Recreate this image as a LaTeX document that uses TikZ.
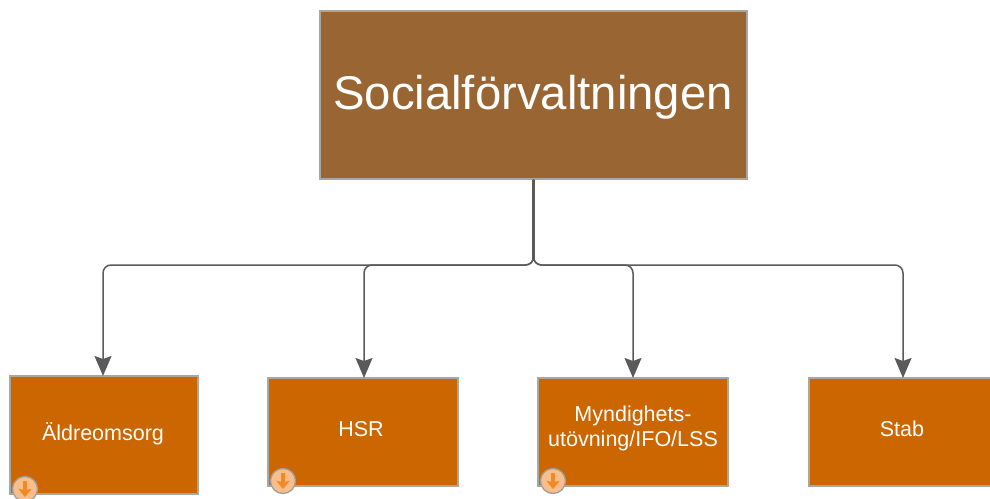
\documentclass[tikz,border=0pt]{standalone}
\usepackage{fontspec}
\setmainfont{Liberation Sans}
\usetikzlibrary{arrows.meta,calc}
\definecolor{mainbrown}{HTML}{996633}
\definecolor{boxorange}{HTML}{CC6600}
\definecolor{edgegray}{HTML}{A8A8A0}
\definecolor{linegray}{HTML}{5A5A5A}
\definecolor{iconorange}{HTML}{F08A24}
\definecolor{iconfill}{HTML}{F8BE8C}
\tikzset{
  unit/.style={draw=edgegray,line width=1.2pt,fill=boxorange,text=white,inner sep=0pt,align=center,font=\fontsize{21.5}{25}\selectfont},
  conn/.style={draw=linegray,line width=1.5pt,rounded corners=8pt,-{Stealth[length=20pt,width=17pt,inset=3pt]}},
  trunk/.style={draw=linegray,line width=3.5pt},
  badge/.style={circle,draw=gray!75,line width=1.3pt,fill=iconfill,minimum size=25pt,inner sep=0pt},
  badgearrow/.style={draw=iconorange,line width=3.5pt,-{Stealth[length=8pt,width=13pt,inset=1pt]}},
  label/.style={text=white,align=center,inner sep=0pt,font=\fontsize{21.5}{25}\selectfont}
}
\begin{document}
\begin{tikzpicture}[x=1pt,y=-1pt]
\useasboundingbox (0,0) rectangle (990,498);
\clip (0,0) rectangle (990,498);
\node[unit,minimum width=427pt,minimum height=168pt,fill=mainbrown] (main) at (533.5,95) {};
\node[label,font=\fontsize{47.3}{54}\selectfont] (mt) at (533,97) {Socialförvaltningen};
\node[unit,minimum width=188pt,minimum height=118pt] (a) at (104,435) {};
\node[unit,minimum width=190pt,minimum height=108pt] (b) at (363,432) {};
\node[unit,minimum width=190pt,minimum height=108pt] (c) at (633,432) {};
\node[unit,minimum width=189pt,minimum height=108pt] (d) at (903.5,432) {};
\node[label] (at) at (103,434) {Äldreomsorg};
\node[label] (bt) at (361,429) {HSR};
\node[label] (ct) at (633,428) {Myndighets-\\utövning/IFO/LSS};
\node[label] (dt) at (902,429) {Stab};
\coordinate (bus) at (533.5,265);
\draw[conn] (main.south) -- (bus) -- (103,265) -- (103,376);
\draw[conn] (main.south) -- (bus) -- (364,265) -- (364,378);
\draw[conn] (main.south) -- (bus) -- (633,265) -- (633,378);
\draw[conn] (main.south) -- (bus) -- (903,265) -- (903,378);
\draw[trunk] (main.south) -- ($(bus)+(0,-4)$);
\node[badge] (ia) at (25,489) {};
\draw[badgearrow] (25,481) -- (25,497);
\node[badge] (ib) at (283,481) {};
\draw[badgearrow] (283,473) -- (283,489);
\node[badge] (ic) at (553,481) {};
\draw[badgearrow] (553,473) -- (553,489);
\end{tikzpicture}
\end{document}
